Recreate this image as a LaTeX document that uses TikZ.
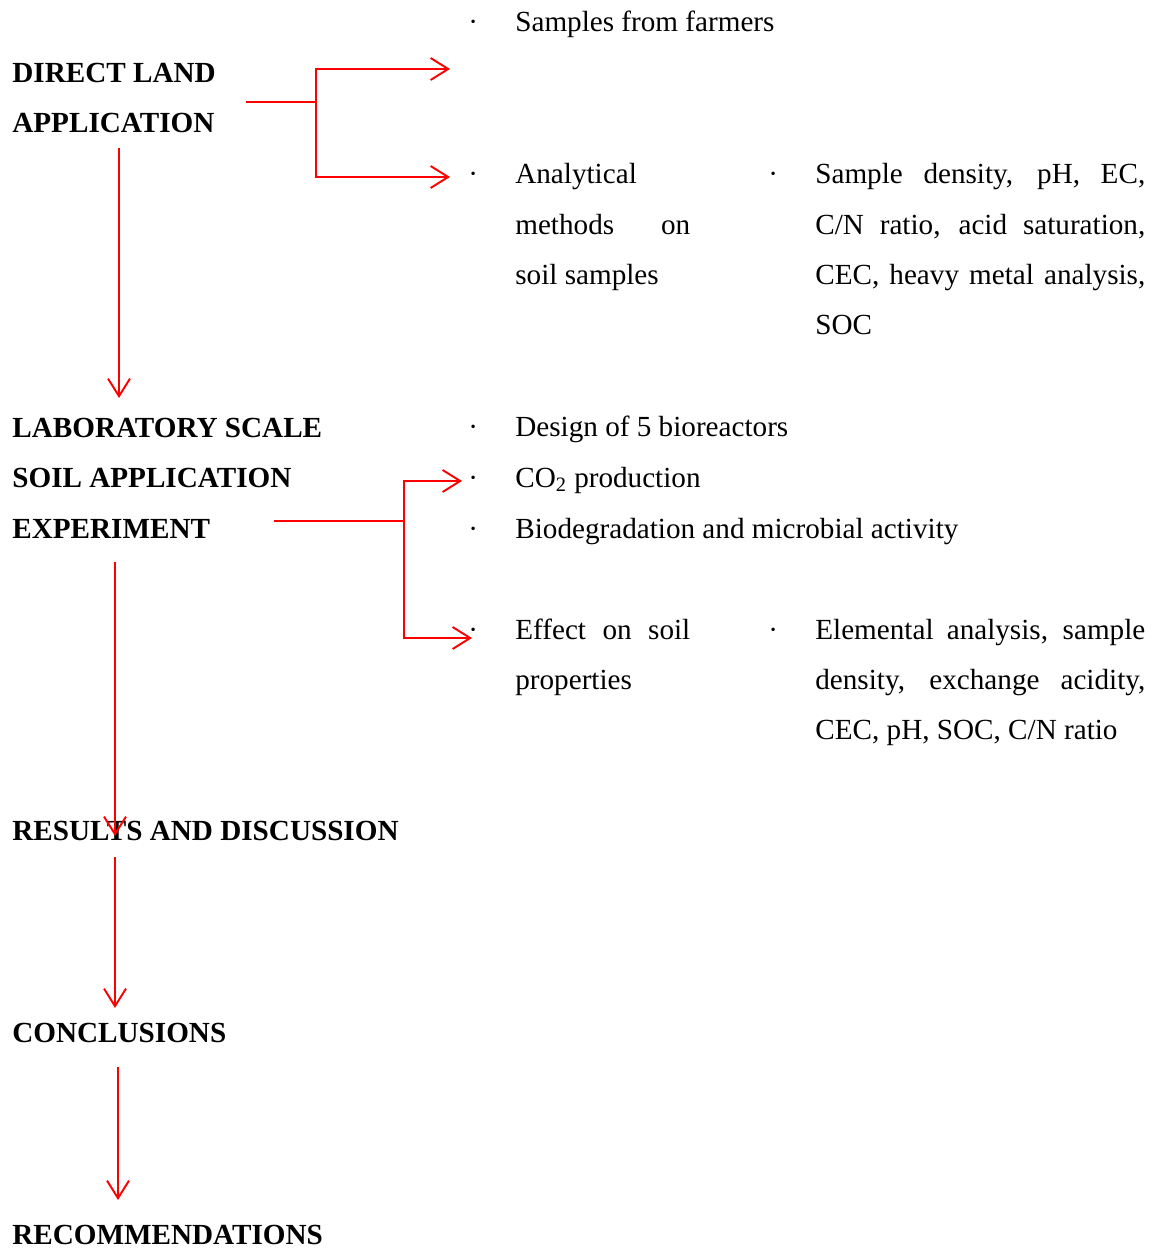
\documentclass[tikz,border=0pt]{standalone}
\usepackage{fontspec}
\setmainfont{Liberation Serif}
\usetikzlibrary{arrows.meta}
\newcommand{\flowsize}{\fontsize{16.6}{28.63}\selectfont}
\tikzset{
  head/.style={anchor=base west, inner sep=0pt, align=left, font=\flowsize\bfseries},
  item/.style={anchor=base west, inner sep=0pt, font=\flowsize},
  para/.style={item, align=justify},
  dot/.style={anchor=base west, inner sep=0pt, font=\flowsize},
  link/.style={red, line width=1.1pt},
  flow/.style={link, -{Straight Barb[length=10pt,width=12.5pt]}},
}
\begin{document}
\begin{tikzpicture}[x=0.02cm, y=-0.02cm]
            \useasboundingbox (0,0) rectangle (1158,1250);
            % headings (base = last line)
            \node[head] (direct) at (12,133) {DIRECT LAND\\APPLICATION};
            \node[head] (lab) at (12,538) {LABORATORY SCALE\\SOIL APPLICATION\\EXPERIMENT};
            \node[head] (results) at (12,840) {RESULTS AND DISCUSSION};
            \node[head] (concl) at (12,1042) {CONCLUSIONS};
            \node[head] (recom) at (12,1244) {RECOMMENDATIONS};
            % bullets
            \node[dot] (b1) at (468,32) {\textperiodcentered};
            \node[dot] (b2) at (468,184) {\textperiodcentered};
            \node[dot] (b3) at (768,184) {\textperiodcentered};
            \node[dot] (b4) at (468,436) {\textperiodcentered};
            \node[dot] (b5) at (468,487) {\textperiodcentered};
            \node[dot] (b6) at (468,538) {\textperiodcentered};
            \node[dot] (b7) at (468,639) {\textperiodcentered};
            \node[dot] (b8) at (768,639) {\textperiodcentered};
            % items
            \node[item] (farmers) at (515,32) {Samples from farmers};
            \node[para, text width=3.5cm] (methods) at (515,184) {Analytical\linebreak methods on\linebreak soil samples};
            \node[para, text width=6.6cm] (soiltests) at (815,184) {Sample density, pH, EC,\linebreak C/N ratio, acid saturation,\linebreak CEC, heavy metal analysis,\linebreak SOC};
            \node[item] (design) at (515,436) {Design of 5 bioreactors};
            \node[item] (co2) at (515,487) {CO\textsubscript{2} production};
            \node[item] (biodeg) at (515,538) {Biodegradation and microbial activity};
            \node[para, text width=3.5cm] (effect) at (515,639) {Effect on soil\linebreak properties};
            \node[para, text width=6.6cm] (elem) at (815,639) {Elemental analysis, sample\linebreak density, exchange acidity,\linebreak CEC, pH, SOC, C/N ratio};
            % branch points and arrow ends
            \coordinate (s1) at (246,102);
            \coordinate (j1) at (316,102);
            \coordinate (t1) at (450,69);
            \coordinate (t2) at (450,177);
            \coordinate (s2) at (274,521);
            \coordinate (j2) at (404,521);
            \coordinate (t3) at (462,481);
            \coordinate (t4) at (472,638);
            \coordinate (d1) at (119,148);
            \coordinate (e1) at (119,398);
            \coordinate (d2) at (115,562);
            \coordinate (e2) at (115,836);
            \coordinate (d3) at (115,857);
            \coordinate (e3) at (115,1008);
            \coordinate (d4) at (118,1067);
            \coordinate (e4) at (118,1200);
            % connectors
            \draw[link] (s1) -- (j1);
            \draw[flow] (j1) |- (t1);
            \draw[flow] (j1) |- (t2);
            \draw[link] (s2) -- (j2);
            \draw[flow] (j2) |- (t3);
            \draw[flow] (j2) |- (t4);
            \draw[flow] (d1) -- (e1);
            \draw[flow] (d2) -- (e2);
            \draw[flow] (d3) -- (e3);
            \draw[flow] (d4) -- (e4);
        \end{tikzpicture}
\end{document}
